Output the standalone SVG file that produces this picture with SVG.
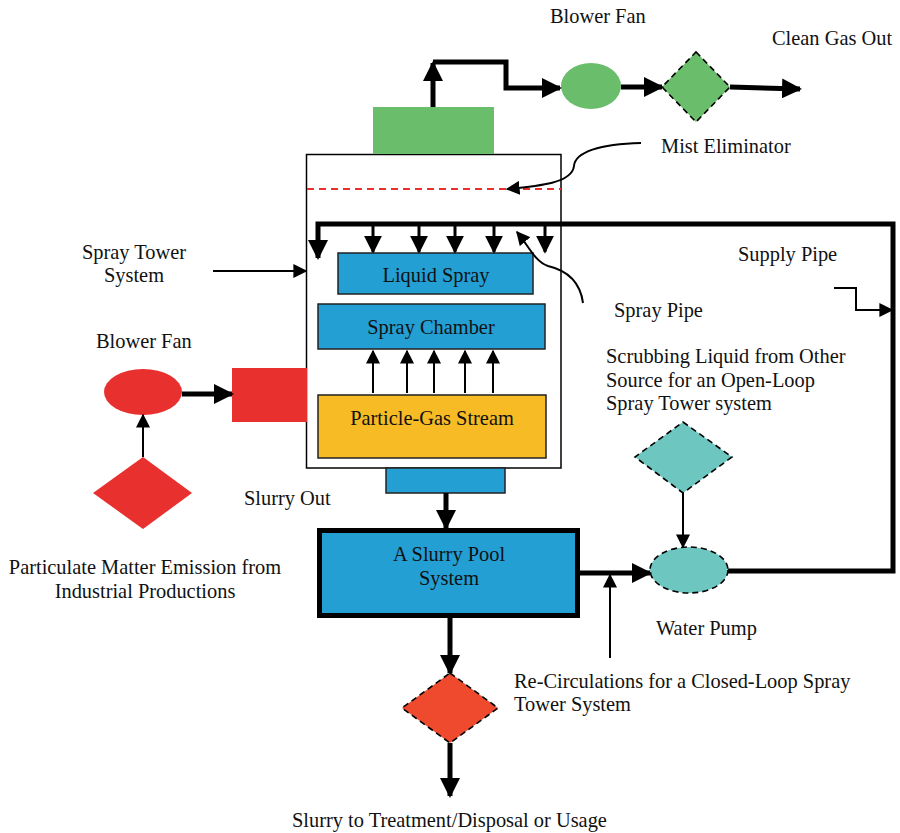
<svg xmlns="http://www.w3.org/2000/svg" width="900" height="833" viewBox="0 0 900 833">
  <style>
    text { font-family: "Liberation Serif", "Times New Roman", serif; font-size: 20.4px; fill: #111; }
    .mid { text-anchor: middle; }
    .thick { fill: none; stroke: #000; stroke-width: 5; }
    .med { fill: none; stroke: #000; stroke-width: 3; }
    .thin { fill: none; stroke: #000; stroke-width: 2; }
    .box { stroke: #222; stroke-width: 1.5; }
    .dash { stroke: #000; stroke-width: 1.6; stroke-dasharray: 6 4; }
  </style>
  <defs>
    <marker id="big" viewBox="0 0 10 10" refX="9" refY="5" markerWidth="4" markerHeight="4" orient="auto" markerUnits="strokeWidth">
      <path d="M0,0 L10,5 L0,10 z" fill="#000"/>
    </marker>
    <marker id="mid" viewBox="0 0 10 10" refX="9" refY="5" markerWidth="6" markerHeight="6" orient="auto" markerUnits="strokeWidth">
      <path d="M0,0 L10,5 L0,10 z" fill="#000"/>
    </marker>
    <marker id="small" viewBox="0 0 10 10" refX="9" refY="5" markerWidth="7" markerHeight="7" orient="auto" markerUnits="strokeWidth">
      <path d="M0,0 L10,5 L0,10 z" fill="#000"/>
    </marker>
  </defs>

  <!-- spray tower housing -->
  <g id="tower">
    <rect x="306.5" y="154.5" width="254.5" height="313.5" fill="#fff" stroke="#000" stroke-width="1.5"/>
    <line x1="307" y1="189" x2="561" y2="189" stroke="#e8302f" stroke-width="2" stroke-dasharray="7 5"/>
  </g>

  <g id="outlet-duct"><rect x="373" y="107" width="121" height="47" fill="#69bd6b"/></g>
  <g id="blower-fan-top"><ellipse cx="591" cy="86" rx="30" ry="23" fill="#69bd6b"/></g>
  <g id="mist-eliminator-unit"><polygon points="696,52 730,87 696,122 662,87" fill="#69bd6b" class="dash"/></g>

  <g id="liquid-spray">
    <rect x="338" y="253" width="195" height="41" fill="#239fd4" class="box"/>
    <text x="436" y="282" class="mid">Liquid Spray</text>
  </g>
  <g id="spray-chamber">
    <rect x="318" y="304" width="227" height="45" fill="#239fd4" class="box"/>
    <text x="431" y="334" class="mid">Spray Chamber</text>
  </g>
  <g id="particle-gas-stream">
    <rect x="318" y="395" width="228" height="63" fill="#f6bb25" class="box"/>
    <text x="432" y="425" class="mid">Particle-Gas Stream</text>
  </g>
  <g id="slurry-outlet"><rect x="386" y="468" width="119" height="25" fill="#239fd4" class="box"/></g>
  <g id="slurry-pool">
    <rect x="319.5" y="530.5" width="258" height="85" fill="#239fd4" stroke="#000" stroke-width="5"/>
    <text x="449" y="561" class="mid">A Slurry Pool</text>
    <text x="449" y="585" class="mid">System</text>
  </g>
  <g id="slurry-valve"><polygon points="450,673 498,708 450,743 402,708" fill="#ef4a2e" class="dash"/></g>
  <g id="water-pump"><ellipse cx="689" cy="570" rx="39" ry="23" fill="#6ec6c0" class="dash"/></g>
  <g id="liquid-source"><polygon points="683,422 732,457 683,493 635,457" fill="#6ec6c0" class="dash"/></g>
  <g id="blower-fan-left"><ellipse cx="143" cy="392" rx="39" ry="23" fill="#e8302f"/></g>
  <g id="inlet-duct"><rect x="232" y="368" width="75" height="54" fill="#e8302f"/></g>
  <g id="emission-source"><polygon points="143,457 192,493 143,529 93,493" fill="#e8302f"/></g>

  <!-- pipes and pointers -->
  <g id="connectors">
    <!-- clean gas route -->
    <path d="M433,107 V63" class="thick" marker-end="url(#big)"/>
    <path d="M433,62 H506 V88 H560" class="thick" marker-end="url(#big)"/>
    <path d="M621,87 H662" class="thick" marker-end="url(#big)"/>
    <path d="M730,87 L800,89" class="thick" marker-end="url(#big)"/>
    <!-- spray header loop -->
    <path d="M728,571 H893 V224 H318 V258" class="thick" marker-end="url(#big)"/>
    <path d="M373,224 V252" class="med" marker-end="url(#mid)"/>
    <path d="M419,224 V252" class="med" marker-end="url(#mid)"/>
    <path d="M455,224 V252" class="med" marker-end="url(#mid)"/>
    <path d="M494,224 V252" class="med" marker-end="url(#mid)"/>
    <path d="M545,224 V252" class="med" marker-end="url(#mid)"/>
    <!-- gas rising -->
    <path d="M373,393 V351" class="thin" marker-end="url(#small)"/>
    <path d="M407,393 V351" class="thin" marker-end="url(#small)"/>
    <path d="M434,393 V351" class="thin" marker-end="url(#small)"/>
    <path d="M465,393 V351" class="thin" marker-end="url(#small)"/>
    <path d="M493,393 V351" class="thin" marker-end="url(#small)"/>
    <!-- slurry route -->
    <path d="M446,493 V528" class="thick" marker-end="url(#big)"/>
    <path d="M450,618 V673" class="thick" marker-end="url(#big)"/>
    <path d="M450,743 V796" class="thick" marker-end="url(#big)"/>
    <path d="M580,573 H650" class="thick" marker-end="url(#big)"/>
    <path d="M683,493 V547" class="thin" marker-end="url(#small)"/>
    <!-- inlet side -->
    <path d="M182,394 H232" class="thick" marker-end="url(#big)"/>
    <path d="M143,457 V415" class="thin" marker-end="url(#small)"/>
    <!-- label pointers -->
    <path d="M213,271 H306" class="thin" marker-end="url(#small)"/>
    <path d="M610,658 V575" class="thin" marker-end="url(#small)"/>
    <path d="M834,288 H856 V310 H892" class="thin" marker-end="url(#small)"/>
    <path d="M641,143 C600,144 575,152 574,166 C572,183 540,186 507,189" class="thin" marker-end="url(#small)"/>
    <path d="M583,303 C580,280 565,270 548,266 C535,262 528,245 517,232" class="thin" marker-end="url(#small)"/>
  </g>

  <!-- labels -->
  <g id="labels">
    <text x="550" y="23">Blower Fan</text>
    <text x="772" y="45">Clean Gas Out</text>
    <text x="661" y="153">Mist Eliminator</text>
    <text x="134" y="259" class="mid">Spray Tower</text>
    <text x="134" y="282" class="mid">System</text>
    <text x="738" y="261">Supply Pipe</text>
    <text x="614" y="317">Spray Pipe</text>
    <text x="606" y="363">Scrubbing Liquid from Other</text>
    <text x="606" y="387">Source for an Open-Loop</text>
    <text x="606" y="410">Spray Tower system</text>
    <text x="96" y="348">Blower Fan</text>
    <text x="244" y="505">Slurry Out</text>
    <text x="145" y="574" class="mid">Particulate Matter Emission from</text>
    <text x="145" y="598" class="mid">Industrial Productions</text>
    <text x="656" y="635">Water Pump</text>
    <text x="514" y="688">Re-Circulations for a Closed-Loop Spray</text>
    <text x="514" y="711">Tower System</text>
    <text x="292" y="827">Slurry to Treatment/Disposal or Usage</text>
  </g>
</svg>
